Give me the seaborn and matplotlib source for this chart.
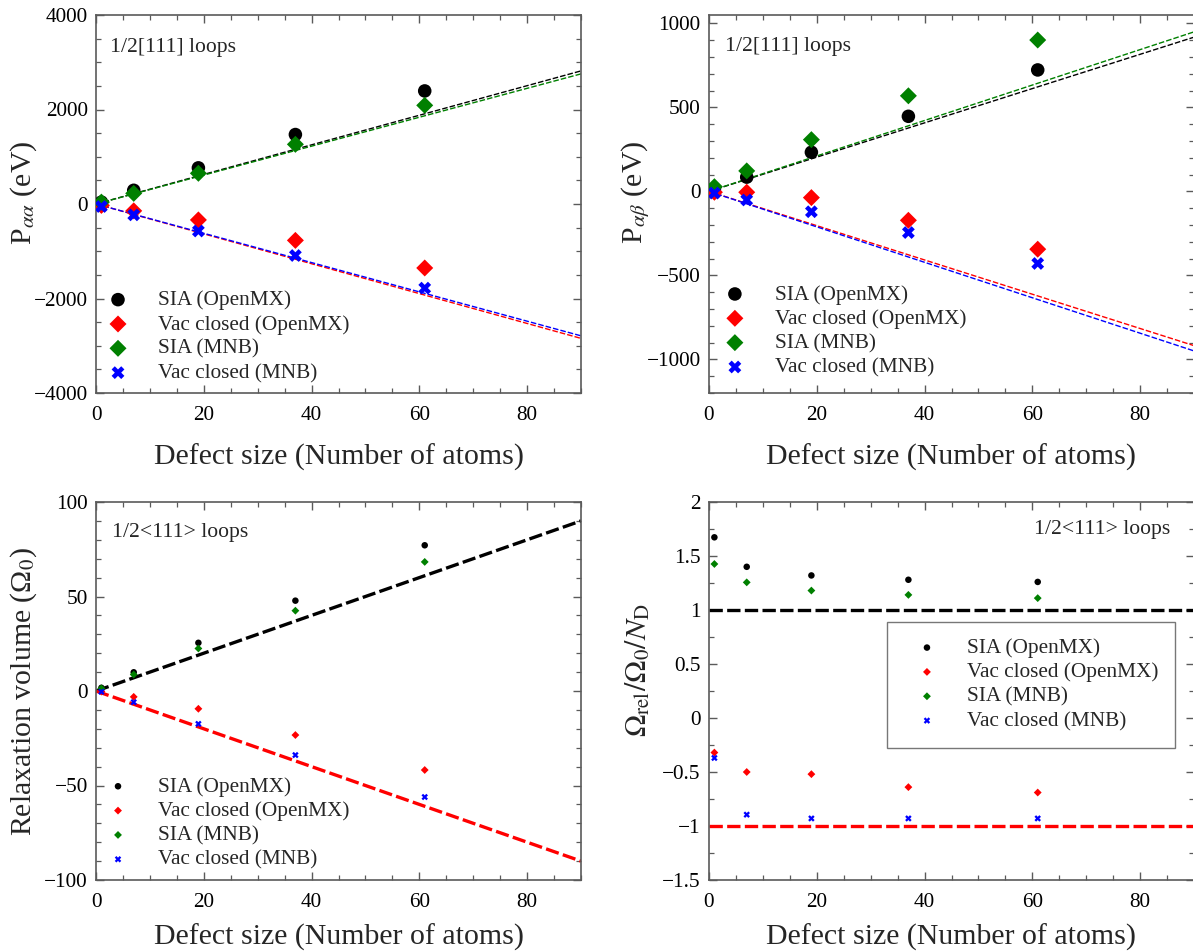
import numpy as np
import pandas as pd
import matplotlib
matplotlib.use("Agg")
import matplotlib.pyplot as plt
from matplotlib.ticker import MultipleLocator, FuncFormatter
import seaborn as sns

# ---------------- data ----------------
defect_size = [1, 7, 19, 37, 61]
fit_x = [0, 90]

# P_alpha_alpha (eV)
paa_sia_openmx = [40, 290, 765, 1470, 2393]
paa_vac_openmx = [-30, -145, -337, -770, -1354]
paa_sia_mnb = [40, 225, 650, 1263, 2088]
paa_vac_mnb = [-53, -230, -572, -1090, -1780]
paa_slopes = {"k": 31.3, "g": 30.6, "r": -31.6, "b": -31.0}

# P_alpha_beta (eV)
pab_sia_openmx = [12, 85, 233, 447, 723]
pab_vac_openmx = [-5, -5, -37, -172, -344]
pab_sia_mnb = [28, 122, 308, 569, 901]
pab_vac_mnb = [-10, -51, -121, -245, -429]
pab_slopes = {"k": 10.2, "g": 10.55, "r": -10.2, "b": -10.55}

# Relaxation volume (Omega_0)
rv_sia_openmx = [1.7, 9.9, 25.5, 47.8, 77.1]
rv_vac_openmx = [-0.3, -3.1, -9.4, -23.3, -41.8]
rv_sia_mnb = [1.4, 8.7, 22.5, 42.5, 68.3]
rv_vac_mnb = [-0.4, -5.9, -17.4, -33.9, -56.1]
rv_slopes = {"k": 1.0, "r": -1.0}

# Relaxation volume per defect
rn_sia_openmx = [1.673, 1.40, 1.32, 1.28, 1.26]
rn_vac_openmx = [-0.32, -0.50, -0.52, -0.64, -0.69]
rn_sia_mnb = [1.426, 1.256, 1.18, 1.14, 1.11]
rn_vac_mnb = [-0.37, -0.895, -0.93, -0.93, -0.93]
rn_levels = {"k": 1.0, "r": -1.0}

labels = ["SIA (OpenMX)", "Vac closed (OpenMX)", "SIA (MNB)", "Vac closed (MNB)"]
colors = ["black", "#ff0000", "#008000", "#0000ff"]
markers = ["o", "D", "D", "X"]
line_colors = {"k": "black", "g": "#008000", "r": "#ff0000", "b": "#0000ff"}

# ---------------- style ----------------
sns.set_style("ticks")
plt.rcParams["font.family"] = ["Liberation Serif", "DejaVu Serif"]
plt.rcParams["mathtext.fontset"] = "stix"
plt.rcParams["xtick.direction"] = "in"
plt.rcParams["ytick.direction"] = "in"
plt.rcParams["xtick.top"] = True
plt.rcParams["ytick.right"] = True
SPINE = "#5a5a5a"

fig = plt.figure(figsize=(11.93, 9.52), dpi=100)
W, H = 1193.0, 952.0


def add_ax(l, t, r, b):
    return fig.add_axes([l / W, 1 - b / H, (r - l) / W, (b - t) / H])


ax_tl = add_ax(96, 15, 581, 393)
ax_tr = add_ax(709, 15, 1194, 393)
ax_bl = add_ax(96, 502, 581, 880)
ax_br = add_ax(709, 502, 1194, 880)

LABEL_FS = 21.5
TICK_FS = 15.3
LEG_FS = 15.3
LEG_KW = dict(fontsize=LEG_FS, handlelength=2.2, handletextpad=0.78,
              labelspacing=0.21, borderpad=0.78, borderaxespad=0, scatterpoints=1)


def fmt(v, pos):
    s = "%g" % v
    return s.replace("-", "\u2212")


def style_ax(ax, ymin, ymax, ymaj, ymin_step, ylabel, xlabelpad, ylab_y):
    ax.set_xlim(0, 90)
    ax.set_ylim(ymin, ymax)
    ax.xaxis.set_major_locator(MultipleLocator(20))
    ax.xaxis.set_minor_locator(MultipleLocator(5))
    ax.yaxis.set_major_locator(MultipleLocator(ymaj))
    ax.yaxis.set_minor_locator(MultipleLocator(ymin_step))
    ax.yaxis.set_major_formatter(FuncFormatter(fmt))
    ax.xaxis.set_major_formatter(FuncFormatter(fmt))
    ax.tick_params(which="both", direction="in", top=True, right=True,
                   color=SPINE, labelsize=TICK_FS, labelcolor="black")
    ax.tick_params(axis="y", which="both", pad=6)
    ax.tick_params(axis="x", which="both", pad=9.5)
    ax.tick_params(which="major", length=6, width=1.0)
    ax.tick_params(which="minor", length=3.5, width=0.9)
    for sp in ax.spines.values():
        sp.set_visible(True)
        sp.set_color(SPINE)
        sp.set_linewidth(1.2)
    ax.set_xlabel("Defect size (Number of atoms)", fontsize=LABEL_FS, labelpad=xlabelpad)
    ax.set_ylabel(ylabel, fontsize=LABEL_FS)
    ax.yaxis.set_label_coords(-0.118, ylab_y)


def draw_points(ax, series, sizes):
    handles = []
    for vals, lab, col, mk, s in zip(series, labels, colors, markers, sizes):
        df = pd.DataFrame({"x": defect_size, "y": vals})
        sns.scatterplot(data=df, x="x", y="y", ax=ax, color=col, marker=mk,
                        s=s, linewidth=0, edgecolor="none", label=lab,
                        legend=False, zorder=3)
        handles.append(ax.collections[-1])
    return handles


def draw_lines(ax, slopes, lw, dash):
    for key, k in slopes.items():
        df = pd.DataFrame({"x": fit_x, "y": [k * v for v in fit_x]})
        sns.lineplot(data=df, x="x", y="y", ax=ax, color=line_colors[key],
                     linewidth=lw, linestyle=(0, dash), legend=False, zorder=2)


def draw_levels(ax, levels, lw, dash):
    for key, v in levels.items():
        df = pd.DataFrame({"x": fit_x, "y": [v for _ in fit_x]})
        sns.lineplot(data=df, x="x", y="y", ax=ax, color=line_colors[key],
                     linewidth=lw, linestyle=(0, dash), legend=False, zorder=2)


big_sizes = [95, 75, 75, 85]
small_sizes = [22, 16, 16, 22]

# ---- top-left
draw_lines(ax_tl, paa_slopes, 1.0, (4, 1.5))
h = draw_points(ax_tl, [paa_sia_openmx, paa_vac_openmx, paa_sia_mnb, paa_vac_mnb], big_sizes)
style_ax(ax_tl, -4000, 4000, 2000, 500, r"P$_{\alpha\alpha}$ (eV)", 13, 0.53)
ax_tl.text(0.029, 0.915, "1/2[111] loops", transform=ax_tl.transAxes,
           fontsize=15.6, va="center", ha="left")
ax_tl.legend(h, labels, loc="lower left", bbox_to_anchor=(-0.037, -0.018),
             frameon=False, **LEG_KW)

# ---- top-right
draw_lines(ax_tr, pab_slopes, 1.0, (4, 1.5))
h = draw_points(ax_tr, [pab_sia_openmx, pab_vac_openmx, pab_sia_mnb, pab_vac_mnb], big_sizes)
style_ax(ax_tr, -1200, 1050, 500, 100, r"P$_{\alpha\beta}$ (eV)", 13, 0.53)
ax_tr.text(0.033, 0.916, "1/2[111] loops", transform=ax_tr.transAxes,
           fontsize=15.6, va="center", ha="left")
ax_tr.legend(h, labels, loc="lower left", bbox_to_anchor=(-0.029, -0.003),
             frameon=False, **LEG_KW)

# ---- bottom-left
draw_lines(ax_bl, rv_slopes, 2.4, (4, 1.3))
h = draw_points(ax_bl, [rv_sia_openmx, rv_vac_openmx, rv_sia_mnb, rv_vac_mnb], small_sizes)
style_ax(ax_bl, -100, 100, 50, 10, r"Relaxation volume (Ω$_0$)", 8, 0.5)
ax_bl.text(0.032, 0.918, "1/2<111> loops", transform=ax_bl.transAxes,
           fontsize=15.6, va="center", ha="left")
ax_bl.legend(h, labels, loc="lower left", bbox_to_anchor=(-0.037, -0.017),
             frameon=False, **LEG_KW)

# ---- bottom-right
draw_levels(ax_br, rn_levels, 2.4, (4, 1.3))
h = draw_points(ax_br, [rn_sia_openmx, rn_vac_openmx, rn_sia_mnb, rn_vac_mnb], small_sizes)
style_ax(ax_br, -1.5, 2, 0.5, 0.25, r"$\Omega_{\mathrm{rel}}/\Omega_0/N_{\mathrm{D}}$", 8, 0.555)
ax_br.text(0.9505, 0.926, "1/2<111> loops", transform=ax_br.transAxes,
           fontsize=15.6, va="center", ha="right")
leg = ax_br.legend(h, labels, loc="upper left",
                   bbox_to_anchor=((887 - 709) / 485.0, 1 - (621.7 - 502) / 378.0),
                   frameon=True, fancybox=False, framealpha=1, edgecolor="#777777",
                   **LEG_KW)
leg.get_frame().set_linewidth(1.0)

fig.savefig("out.png", dpi=100)
